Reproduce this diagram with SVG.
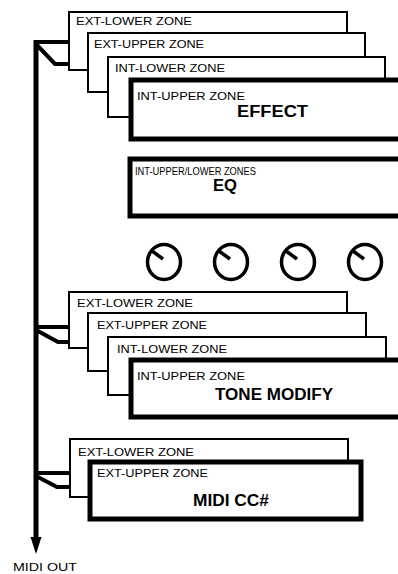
<svg xmlns="http://www.w3.org/2000/svg" width="398" height="574" viewBox="0 0 398 574">
<style>
.box{fill:#fff;stroke:#000;stroke-width:2}
.tbox{fill:#fff;stroke:#000;stroke-width:5}
.lbl{font-family:"Liberation Sans",Arial,sans-serif;font-size:11.5px;fill:#000}
.ttl{font-family:"Liberation Sans",Arial,sans-serif;font-size:16px;font-weight:bold;fill:#000}
.con{fill:none;stroke:#000;stroke-width:4}
.knob{fill:none;stroke:#000;stroke-width:3.5}
</style>
<rect width="398" height="574" fill="#fff"/>
<g id="connectors">
<line x1="36" y1="40" x2="36" y2="538" stroke="#000" stroke-width="5"/>
<polygon points="30.5,537 41.5,537 36,554" fill="#000"/>
<line class="con" x1="34" y1="42" x2="70" y2="42"/>
<path class="con" d="M36,44 L55,64 L89,64"/>
<line class="con" x1="34" y1="327" x2="70" y2="327"/>
<path class="con" d="M36,330 L58,342 L89,342"/>
<line class="con" x1="34" y1="473" x2="71" y2="473"/>
<path class="con" d="M36,476 L57,487 L90,487"/>
</g>
<g id="effect-group">
<g id="effect-ext-lower"><rect class="box" x="69" y="12" width="278" height="58"/><text class="lbl" x="76" y="25" textLength="116" lengthAdjust="spacingAndGlyphs">EXT-LOWER ZONE</text></g>
<g id="effect-ext-upper"><rect class="box" x="88" y="33" width="277" height="59"/><text class="lbl" x="94" y="48" textLength="110" lengthAdjust="spacingAndGlyphs">EXT-UPPER ZONE</text></g>
<g id="effect-int-lower"><rect class="box" x="108" y="57" width="277" height="60"/><text class="lbl" x="115" y="72" textLength="110" lengthAdjust="spacingAndGlyphs">INT-LOWER ZONE</text></g>
<g id="effect-int-upper"><rect class="tbox" x="131" y="80" width="280" height="59"/><text class="lbl" x="137" y="100" textLength="108" lengthAdjust="spacingAndGlyphs">INT-UPPER ZONE</text><text class="ttl" x="237" y="117" textLength="71" lengthAdjust="spacingAndGlyphs">EFFECT</text></g>
</g>
<g id="eq">
<rect class="tbox" x="130" y="159" width="280" height="57"/>
<text class="lbl" x="135" y="175" textLength="121" lengthAdjust="spacingAndGlyphs">INT-UPPER/LOWER ZONES</text>
<text class="ttl" x="213" y="191" font-size="14.5" textLength="24" lengthAdjust="spacingAndGlyphs">EQ</text>
</g>
<g id="knobs">
<g id="knob1"><ellipse class="knob" cx="164" cy="262" rx="16.5" ry="17.5"/><line class="knob" x1="152" y1="251" x2="163" y2="259"/></g>
<g id="knob2"><ellipse class="knob" cx="231" cy="262" rx="16.5" ry="17.5"/><line class="knob" x1="219" y1="251" x2="230" y2="259"/></g>
<g id="knob3"><ellipse class="knob" cx="298" cy="262" rx="16.5" ry="17.5"/><line class="knob" x1="286" y1="251" x2="297" y2="259"/></g>
<g id="knob4"><ellipse class="knob" cx="365" cy="262" rx="16.5" ry="17.5"/><line class="knob" x1="353" y1="251" x2="364" y2="259"/></g>
</g>
<g id="tone-group">
<g id="tone-ext-lower"><rect class="box" x="69" y="292" width="278" height="56"/><text class="lbl" x="77" y="307" textLength="116" lengthAdjust="spacingAndGlyphs">EXT-LOWER ZONE</text></g>
<g id="tone-ext-upper"><rect class="box" x="88" y="313" width="278" height="58"/><text class="lbl" x="97" y="329" textLength="110" lengthAdjust="spacingAndGlyphs">EXT-UPPER ZONE</text></g>
<g id="tone-int-lower"><rect class="box" x="108" y="337" width="278" height="58"/><text class="lbl" x="117" y="353" textLength="110" lengthAdjust="spacingAndGlyphs">INT-LOWER ZONE</text></g>
<g id="tone-int-upper"><rect class="tbox" x="131" y="360" width="280" height="57"/><text class="lbl" x="137" y="380" textLength="108" lengthAdjust="spacingAndGlyphs">INT-UPPER ZONE</text><text class="ttl" x="215" y="400" textLength="118" lengthAdjust="spacingAndGlyphs">TONE MODIFY</text></g>
</g>
<g id="midi-group">
<g id="midi-ext-lower"><rect class="box" x="70" y="439" width="278" height="58"/><text class="lbl" x="78" y="456" textLength="116" lengthAdjust="spacingAndGlyphs">EXT-LOWER ZONE</text></g>
<g id="midi-ext-upper"><rect class="tbox" x="90" y="462" width="271" height="57"/><text class="lbl" x="97" y="477" textLength="111" lengthAdjust="spacingAndGlyphs">EXT-UPPER ZONE</text><text class="ttl" x="193" y="506" textLength="76" lengthAdjust="spacingAndGlyphs">MIDI CC#</text></g>
</g>
<text id="midi-out" class="lbl" x="13" y="571" font-size="13" textLength="64" lengthAdjust="spacingAndGlyphs">MIDI OUT</text>
</svg>
